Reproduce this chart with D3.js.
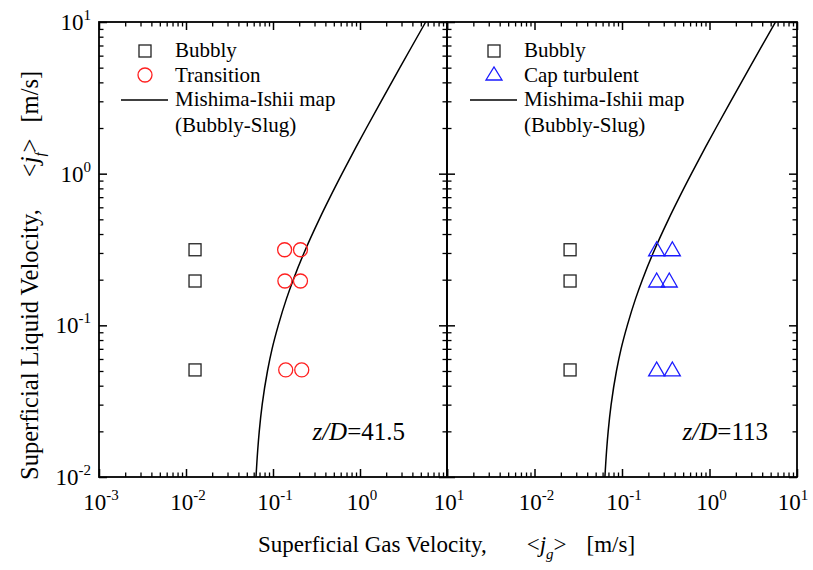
<!DOCTYPE html>
<html>
<head>
<meta charset="utf-8">
<script src="https://cdn.jsdelivr.net/npm/d3@7"></script>
<style>
  body { margin: 0; background: #fff; }
  text { font-family: "Liberation Serif", "Times New Roman", serif; fill: #000; }
</style>
</head>
<body>
<div id="chart"></div>
<script>
// Axis decades
const gasExp = [-3, -2, -1, 0, 1];
const liqExp = [-2, -1, 0, 1];

// Left panel (z/D = 41.5)
const bubblyLeftJg = [0.0127, 0.0127, 0.0127];
const bubblyLeftJf = [0.315, 0.196, 0.0508];
const transJg = [0.136, 0.207, 0.137, 0.207, 0.140, 0.214];
const transJf = [0.315, 0.315, 0.196, 0.196, 0.0508, 0.0508];

// Right panel (z/D = 113)
const bubblyRightJg = [0.0255, 0.0255, 0.0255];
const bubblyRightJf = [0.315, 0.196, 0.0508];
const capJg = [0.249, 0.376, 0.249, 0.347, 0.249, 0.376];
const capJf = [0.315, 0.315, 0.196, 0.196, 0.0508, 0.0508];

// Mishima-Ishii bubbly-slug boundary
const mishimaJg = [0.0638, 0.0667, 0.0695, 0.0751, 0.0864, 0.0976, 0.115, 0.143,
  0.171, 0.227, 0.340, 0.453, 0.622, 0.903, 1.185, 1.748, 2.875, 4.00, 5.69];
const mishimaJf = [0.01, 0.015, 0.02, 0.03, 0.05, 0.07, 0.1, 0.15,
  0.2, 0.3, 0.5, 0.7, 1, 1.5, 2, 3, 5, 7, 10];

const W = 813, H = 570;
const plotTop = 22, plotBottom = 477;
const panels = [
  { x0: 99, x1: 447, label: "41.5", labelRight: 405, labels: gasExp,
    sq: [bubblyLeftJg, bubblyLeftJf], other: [transJg, transJf], kind: "circle",
    legend: ["Bubbly", "Transition"], legX: 145 },
  { x0: 447, x1: 797, label: "113", labelRight: 768, labels: gasExp.slice(1),
    sq: [bubblyRightJg, bubblyRightJf], other: [capJg, capJf], kind: "triangle",
    legend: ["Bubbly", "Cap turbulent"], legX: 494 }
];

const svg = d3.select("#chart").append("svg")
  .attr("width", W).attr("height", H)
  .attr("font-family", "Liberation Serif, Times New Roman, serif");

const y = d3.scaleLog().domain([1e-2, 10]).range([plotBottom, plotTop]);

// Helper: "10" with superscript exponent
function powLabel(sel, e) {
  sel.text("10");
  sel.append("tspan").attr("dy", -10).attr("font-size", 15).text(e);
}

const isMinor = (v) => Math.abs(Math.log10(v) - Math.round(Math.log10(v))) > 1e-6;

panels.forEach((p, i) => {
  const x = d3.scaleLog().domain([1e-3, 10]).range([p.x0, p.x1]);
  const g = svg.append("g");
  const minorX = x.ticks().filter(isMinor);
  const majorX = gasExp.map((e) => Math.pow(10, e));
  const minorY = y.ticks().filter(isMinor);
  const majorY = liqExp.map((e) => Math.pow(10, e));

  // Inward ticks on all four sides
  const axes = [
    [d3.axisBottom, `translate(0,${plotBottom})`, x, majorX, minorX],
    [d3.axisTop, `translate(0,${plotTop})`, x, majorX, minorX],
    [d3.axisLeft, `translate(${p.x0},0)`, y, majorY, minorY],
    [d3.axisRight, `translate(${p.x1},0)`, y, majorY, minorY]
  ];
  axes.forEach(([ax, tr, sc, maj, min]) => {
    g.append("g").attr("transform", tr)
      .call(ax(sc).tickValues(maj).tickSize(-8).tickFormat(""))
      .call((s) => s.select(".domain").remove())
      .selectAll("line").attr("stroke-width", 1.5);
    g.append("g").attr("transform", tr)
      .call(ax(sc).tickValues(min).tickSize(-4.5).tickFormat(""))
      .call((s) => s.select(".domain").remove())
      .selectAll("line").attr("stroke-width", 1.3);
  });

  g.append("rect")
    .attr("x", p.x0).attr("y", plotTop)
    .attr("width", p.x1 - p.x0).attr("height", plotBottom - plotTop)
    .attr("fill", "none").attr("stroke", "#000").attr("stroke-width", 1.8);

  // x tick labels (the last one is pulled in so it stays on the page)
  p.labels.forEach((e) => {
    const t = g.append("text")
      .attr("x", Math.min(x(Math.pow(10, e)) + 2, 793)).attr("y", 510)
      .attr("text-anchor", "middle").attr("font-size", 23);
    powLabel(t, e);
  });

  // y tick labels on the left panel only
  if (i === 0) {
    liqExp.forEach((e) => {
      const t = g.append("text")
        .attr("x", p.x0 - 8).attr("y", y(Math.pow(10, e)) + 8)
        .attr("text-anchor", "end").attr("font-size", 23);
      powLabel(t, e);
    });
  }

  // Mishima-Ishii boundary
  const line = d3.line().x((d) => x(d[0])).y((d) => y(d[1])).curve(d3.curveMonotoneY);
  g.append("path")
    .datum(mishimaJg.map((v, k) => [v, mishimaJf[k]]))
    .attr("d", line)
    .attr("fill", "none").attr("stroke", "#000").attr("stroke-width", 1.5);

  // Bubbly squares
  g.selectAll(".sq").data(p.sq[0].map((v, k) => [v, p.sq[1][k]])).enter()
    .append("rect")
    .attr("x", (d) => x(d[0]) - 6).attr("y", (d) => y(d[1]) - 6)
    .attr("width", 12).attr("height", 12)
    .attr("fill", "none").attr("stroke", "#222").attr("stroke-width", 1.3);

  const pts = p.other[0].map((v, k) => [v, p.other[1][k]]);
  if (p.kind === "circle") {
    g.selectAll(".ci").data(pts).enter().append("circle")
      .attr("cx", (d) => x(d[0])).attr("cy", (d) => y(d[1])).attr("r", 7)
      .attr("fill", "none").attr("stroke", "#ff2020").attr("stroke-width", 1.3);
  } else {
    g.selectAll(".tr").data(pts).enter().append("path")
      .attr("d", (d) => {
        const cx = x(d[0]), cy = y(d[1]);
        return `M${cx - 8},${cy + 6}L${cx},${cy - 8}L${cx + 8},${cy + 6}Z`;
      })
      .attr("fill", "none").attr("stroke", "#1a1aff").attr("stroke-width", 1.3);
  }

  // Legend
  const lx = p.legX, tx = lx + 30;
  g.append("rect").attr("x", lx - 6).attr("y", 45).attr("width", 12).attr("height", 12)
    .attr("fill", "none").attr("stroke", "#222").attr("stroke-width", 1.3);
  g.append("text").attr("x", tx).attr("y", 57).attr("font-size", 21).text(p.legend[0]);
  if (p.kind === "circle") {
    g.append("circle").attr("cx", lx).attr("cy", 75).attr("r", 7)
      .attr("fill", "none").attr("stroke", "#ff2020").attr("stroke-width", 1.3);
  } else {
    g.append("path").attr("d", `M${lx - 8},${80}L${lx},${67}L${lx + 8},${80}Z`)
      .attr("fill", "none").attr("stroke", "#1a1aff").attr("stroke-width", 1.3);
  }
  g.append("text").attr("x", tx).attr("y", 82).attr("font-size", 21).text(p.legend[1]);
  g.append("line").attr("x1", lx - 24).attr("x2", lx + 23).attr("y1", 100).attr("y2", 100)
    .attr("stroke", "#000").attr("stroke-width", 1.3);
  g.append("text").attr("x", tx).attr("y", 106).attr("font-size", 21).text("Mishima-Ishii map");
  g.append("text").attr("x", tx).attr("y", 132).attr("font-size", 21).text("(Bubbly-Slug)");

  // z/D annotation
  const zt = g.append("text").attr("x", p.labelRight).attr("y", 440)
    .attr("text-anchor", "end").attr("font-size", 25);
  zt.append("tspan").attr("font-style", "italic").text("z/D");
  zt.append("tspan").text("=" + p.label);
});

// Axis titles, with the wide gaps of the original
function title(sel, main, sub, gap1, gap2) {
  sel.append("tspan").text(main);
  sel.append("tspan").attr("dx", gap1).text("<");
  sel.append("tspan").attr("font-style", "italic").text("j");
  sel.append("tspan").attr("font-size", 15).attr("font-style", "italic").attr("dy", 7).text(sub);
  sel.append("tspan").attr("dy", -7).text(">");
  sel.append("tspan").attr("dx", gap2).text("[m/s]");
}

title(svg.append("text").attr("x", 258).attr("y", 552).attr("font-size", 23),
  "Superficial Gas Velocity,", "g", 40, 20);
title(svg.append("text").attr("transform", "translate(38,480) rotate(-90)").attr("font-size", 24.5),
  "Superficial Liquid Velocity,", "f", 32, 16);
</script>
</body>
</html>
